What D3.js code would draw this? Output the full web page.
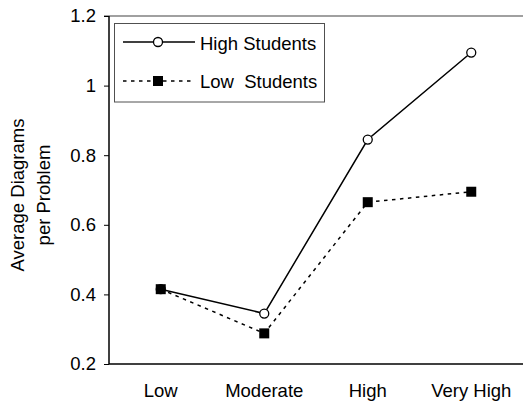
<!DOCTYPE html>
<html><head><meta charset="utf-8">
<script src="https://cdn.jsdelivr.net/npm/d3@7"></script>
<style>body{margin:0;background:#fff}svg{display:block}text{font-family:"Liberation Sans",Arial,sans-serif}</style>
</head><body><svg id="c" width="523" height="402"></svg>
<script>
const categories = ["Low", "Moderate", "High", "Very High"];
const highStudents = [0.415, 0.345, 0.845, 1.095];
const lowStudents = [0.415, 0.288, 0.665, 0.695];
const yTicks = [0.2, 0.4, 0.6, 0.8, 1, 1.2];

const FS = 18.5;
const DASH = "3.5,4.5";
const svg = d3.select("#c");
const mLeft = 109, mRight = 523, mTop = 16, mBottom = 364;
const x = d3.scaleBand().domain(categories).range([mLeft, mRight]);
const y = d3.scaleLinear().domain([0.2, 1.2]).range([mBottom, mTop]);
const cx = d => x(d) + x.bandwidth() / 2;

// top frame line
svg.append("line").attr("x1", mLeft - 5).attr("x2", mRight).attr("y1", mTop).attr("y2", mTop)
  .attr("stroke", "#808080").attr("stroke-width", 1.5);

const yAxis = svg.append("g").attr("transform", `translate(${mLeft},0)`)
  .call(d3.axisLeft(y).tickValues(yTicks).tickSize(5).tickPadding(8).tickFormat(d => String(d)));
yAxis.attr("font-size", FS).attr("font-family", null);
yAxis.select(".domain").attr("d", `M0,${mTop}V${mBottom}`).attr("stroke", "#000").attr("stroke-width", 1.5);
yAxis.selectAll(".tick line").attr("stroke", "#000").attr("stroke-width", 1);
yAxis.selectAll("text").attr("fill", "#000");

const xAxis = svg.append("g").attr("transform", `translate(0,${mBottom})`)
  .call(d3.axisBottom(x).tickSize(0).tickPadding(20));
xAxis.attr("font-size", FS).attr("font-family", null);
xAxis.select(".domain").attr("d", `M${mLeft},0H${mRight}`).attr("stroke", "#000").attr("stroke-width", 1.5);
xAxis.selectAll("text").attr("fill", "#000");

// y title
const yt = svg.append("text").attr("transform", "translate(0,195) rotate(-90)")
  .attr("text-anchor", "middle").attr("font-size", FS).attr("fill", "#000");
yt.append("tspan").attr("x", 0).attr("y", 24).text("Average Diagrams");
yt.append("tspan").attr("x", 0).attr("y", 50).text("per Problem");

const line = d3.line().x((d, i) => cx(categories[i])).y(d => y(d));

svg.append("path").datum(lowStudents).attr("d", line).attr("fill", "none")
  .attr("stroke", "#000").attr("stroke-width", 1.5).attr("stroke-dasharray", DASH);
svg.append("path").datum(highStudents).attr("d", line).attr("fill", "none")
  .attr("stroke", "#000").attr("stroke-width", 1.5);

const sq = 10;
svg.selectAll("circle.high").data(highStudents).join("circle").attr("class", "high")
  .attr("cx", (d, i) => cx(categories[i])).attr("cy", d => y(d)).attr("r", 4.5)
  .attr("fill", "#fff").attr("stroke", "#000").attr("stroke-width", 1.3);
svg.selectAll("rect.low").data(lowStudents).join("rect").attr("class", "low")
  .attr("x", (d, i) => cx(categories[i]) - sq / 2).attr("y", d => y(d) - sq / 2)
  .attr("width", sq).attr("height", sq).attr("fill", "#000");

// legend
const lg = svg.append("g");
lg.append("rect").attr("x", 114.5).attr("y", 23.5).attr("width", 210).attr("height", 78.5)
  .attr("fill", "#fff").attr("stroke", "#505050").attr("stroke-width", 1);
lg.append("line").attr("x1", 123).attr("x2", 195).attr("y1", 42).attr("y2", 42).attr("stroke", "#000").attr("stroke-width", 1.5);
lg.append("circle").attr("cx", 158).attr("cy", 42).attr("r", 4.5).attr("fill", "#fff").attr("stroke", "#000").attr("stroke-width", 1.3);
lg.append("line").attr("x1", 123).attr("x2", 195).attr("y1", 81).attr("y2", 81).attr("stroke", "#000").attr("stroke-width", 1.5).attr("stroke-dasharray", DASH);
lg.append("rect").attr("x", 158 - sq / 2).attr("y", 81 - sq / 2).attr("width", sq).attr("height", sq).attr("fill", "#000");
lg.append("text").attr("x", 200).attr("y", 49.5).attr("font-size", FS).text("High Students");
lg.append("text").attr("x", 200).attr("y", 87.5).attr("font-size", FS).style("white-space", "pre").text("Low  Students");
</script></body></html>
